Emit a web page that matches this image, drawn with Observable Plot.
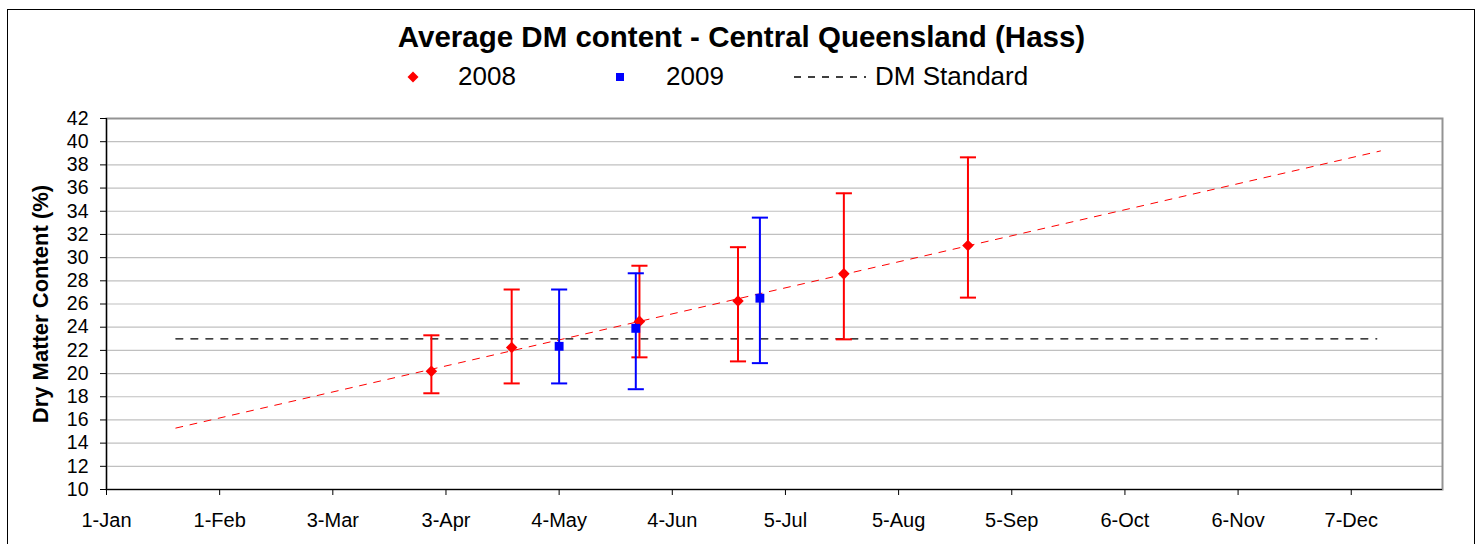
<!DOCTYPE html>
<html><head><meta charset="utf-8">
<script src="https://cdn.jsdelivr.net/npm/d3@7"></script>
<script src="https://cdn.jsdelivr.net/npm/@observablehq/plot@0.6"></script>
<style>
body{margin:0;background:#fff;font-family:"Liberation Sans",Arial,sans-serif;}
#wrap{position:relative;width:1483px;height:544px;overflow:hidden;background:#fff;}
#border{position:absolute;left:7px;top:9px;width:1468px;height:600px;border:1px solid #000;box-sizing:border-box;}
#title{position:absolute;left:0;top:21px;width:1483px;text-align:center;font-weight:bold;font-size:29.5px;color:#000;line-height:32px;}
#legend{position:absolute;top:61px;left:0;height:30px;width:1483px;font-size:26px;line-height:30px;}
#legend span{position:absolute;top:0;}
#legend svg{position:absolute;}
#chart{position:absolute;left:0;top:100px;}
</style></head><body>
<div id="wrap"><div id="border"></div><div id="title"></div><div id="legend"></div><div id="chart"></div></div>
<script>
const titleText = "Average DM content - Central Queensland (Hass)";
const yLabel = "Dry Matter Content (%)";
const seriesNames = ["2008", "2009", "DM Standard"];
const seriesColors = ["#ff0000", "#0000ff", "#000000"];

// 2008 season (red diamonds) with error-bar limits
const dates2008 = ["2008-03-30", "2008-04-21", "2008-05-26", "2008-06-22", "2008-07-21", "2008-08-24"];
const dm2008 = [20.2, 22.25, 24.5, 26.25, 28.6, 31.05];
const lo2008 = [18.3, 19.15, 21.4, 21.05, 22.95, 26.55];
const hi2008 = [23.3, 27.25, 29.3, 30.9, 35.55, 38.65];

// 2009 season (blue squares), plotted on the same calendar axis
const dates2009 = ["2008-05-04", "2008-05-25", "2008-06-28"];
const dm2009 = [22.35, 23.9, 26.5];
const lo2009 = [19.15, 18.65, 20.9];
const hi2009 = [27.25, 28.65, 33.45];

// DM standard (horizontal dashed line)
const standardDates = ["2008-01-20", "2008-12-14"];
const standardValues = [23, 23];

// linear trend through 2008 data (red dashed)
const trendDates = ["2008-01-20", "2008-12-15"];
const trendValues = [15.3, 39.2];

// axes
const xDomain = ["2008-01-01", "2009-01-01"];
const xTickDates = ["2008-01-01", "2008-02-01", "2008-03-03", "2008-04-03", "2008-05-04", "2008-06-04",
  "2008-07-05", "2008-08-05", "2008-09-05", "2008-10-06", "2008-11-06", "2008-12-07"];
const xTickLabels = ["1-Jan", "1-Feb", "3-Mar", "3-Apr", "4-May", "4-Jun", "5-Jul", "5-Aug", "5-Sep", "6-Oct", "6-Nov", "7-Dec"];
const yTicks = [10, 12, 14, 16, 18, 20, 22, 24, 26, 28, 30, 32, 34, 36, 38, 40, 42];

const parse = s => new Date(s + "T00:00:00Z");
const mk = (dates, v, lo, hi) => dates.map((d, i) => ({date: parse(d), v: v[i], lo: lo[i], hi: hi[i]}));
const s2008 = mk(dates2008, dm2008, lo2008, hi2008);
const s2009 = mk(dates2009, dm2009, lo2009, hi2009);
const standard = standardDates.map((d, i) => ({date: parse(d), v: standardValues[i]}));
const trend = trendDates.map((d, i) => ({date: parse(d), v: trendValues[i]}));
const capHalf = 53; // hours
const capL = d => d3.utcHour.offset(d.date, -capHalf);
const capR = d => d3.utcHour.offset(d.date, capHalf);

function errorBars(data, color) {
  return [
    Plot.ruleX(data, {x: "date", y1: "lo", y2: "hi", stroke: color, strokeWidth: 2}),
    Plot.link(data, {x1: capL, x2: capR, y1: "hi", y2: "hi", stroke: color, strokeWidth: 2}),
    Plot.link(data, {x1: capL, x2: capR, y1: "lo", y2: "lo", stroke: color, strokeWidth: 2})
  ];
}

document.getElementById("title").textContent = titleText;

const legend = document.getElementById("legend");
legend.innerHTML = `
<svg style="left:407px;top:10px" width="12" height="12"><path d="M6,0.5L11.5,6L6,11.5L0.5,6Z" fill="${seriesColors[0]}"/></svg>
<span style="left:458px">${seriesNames[0]}</span>
<svg style="left:615px;top:11px" width="10" height="10"><rect x="1" y="1" width="8" height="8" fill="${seriesColors[1]}"/></svg>
<span style="left:666px">${seriesNames[1]}</span>
<svg style="left:794px;top:14px" width="74" height="4"><line x1="0" y1="2" x2="72" y2="2" stroke="#000" stroke-width="1.3" stroke-dasharray="7,7"/></svg>
<span style="left:875px">${seriesNames[2]}</span>`;

const chart = Plot.plot({
  width: 1483,
  height: 444,
  marginTop: 18,
  marginBottom: 55,
  marginLeft: 106,
  marginRight: 41,
  style: {fontFamily: "Liberation Sans, Arial, sans-serif", fontSize: "19px", color: "#000", background: "transparent", overflow: "visible"},
  x: {type: "utc", domain: xDomain.map(parse)},
  y: {domain: [10, 42]},
  marks: [
    Plot.gridY(yTicks, {stroke: "#c0c0c0", strokeOpacity: 1, strokeWidth: 1.2}),
    Plot.frame({stroke: "#939393", strokeWidth: 2}),
    Plot.ruleX([parse(xDomain[0])], {stroke: "#000", strokeWidth: 1.2}),
    Plot.ruleY([10], {stroke: "#000", strokeWidth: 1.2}),
    Plot.axisY({ticks: yTicks, tickSize: 6, tickPadding: 12, label: null, fontSize: 19.5}),
    Plot.axisX({ticks: xTickDates.map(parse), tickFormat: (d, i) => xTickLabels[i], tickSize: 6, tickPadding: 17, label: null, fontSize: 20}),
    Plot.text([yLabel], {text: d => d, frameAnchor: "left", textAnchor: "middle", rotate: -90, dx: -66, fontWeight: "bold", fontSize: 22}),
    Plot.line(standard, {x: "date", y: "v", stroke: seriesColors[2], strokeWidth: 1.3, strokeDasharray: "7,8"}),
    Plot.line(trend, {x: "date", y: "v", stroke: seriesColors[0], strokeWidth: 1, strokeDasharray: "7,7.5"}),
    ...errorBars(s2008, seriesColors[0]),
    ...errorBars(s2009, seriesColors[1]),
    Plot.dot(s2008, {x: "date", y: "v", symbol: "diamond2", r: 5.2, fill: seriesColors[0], stroke: "none"}),
    Plot.dot(s2009, {x: "date", y: "v", symbol: "square", r: 5, fill: seriesColors[1], stroke: "none"})
  ]
});
document.getElementById("chart").appendChild(chart);
</script>
</body></html>
